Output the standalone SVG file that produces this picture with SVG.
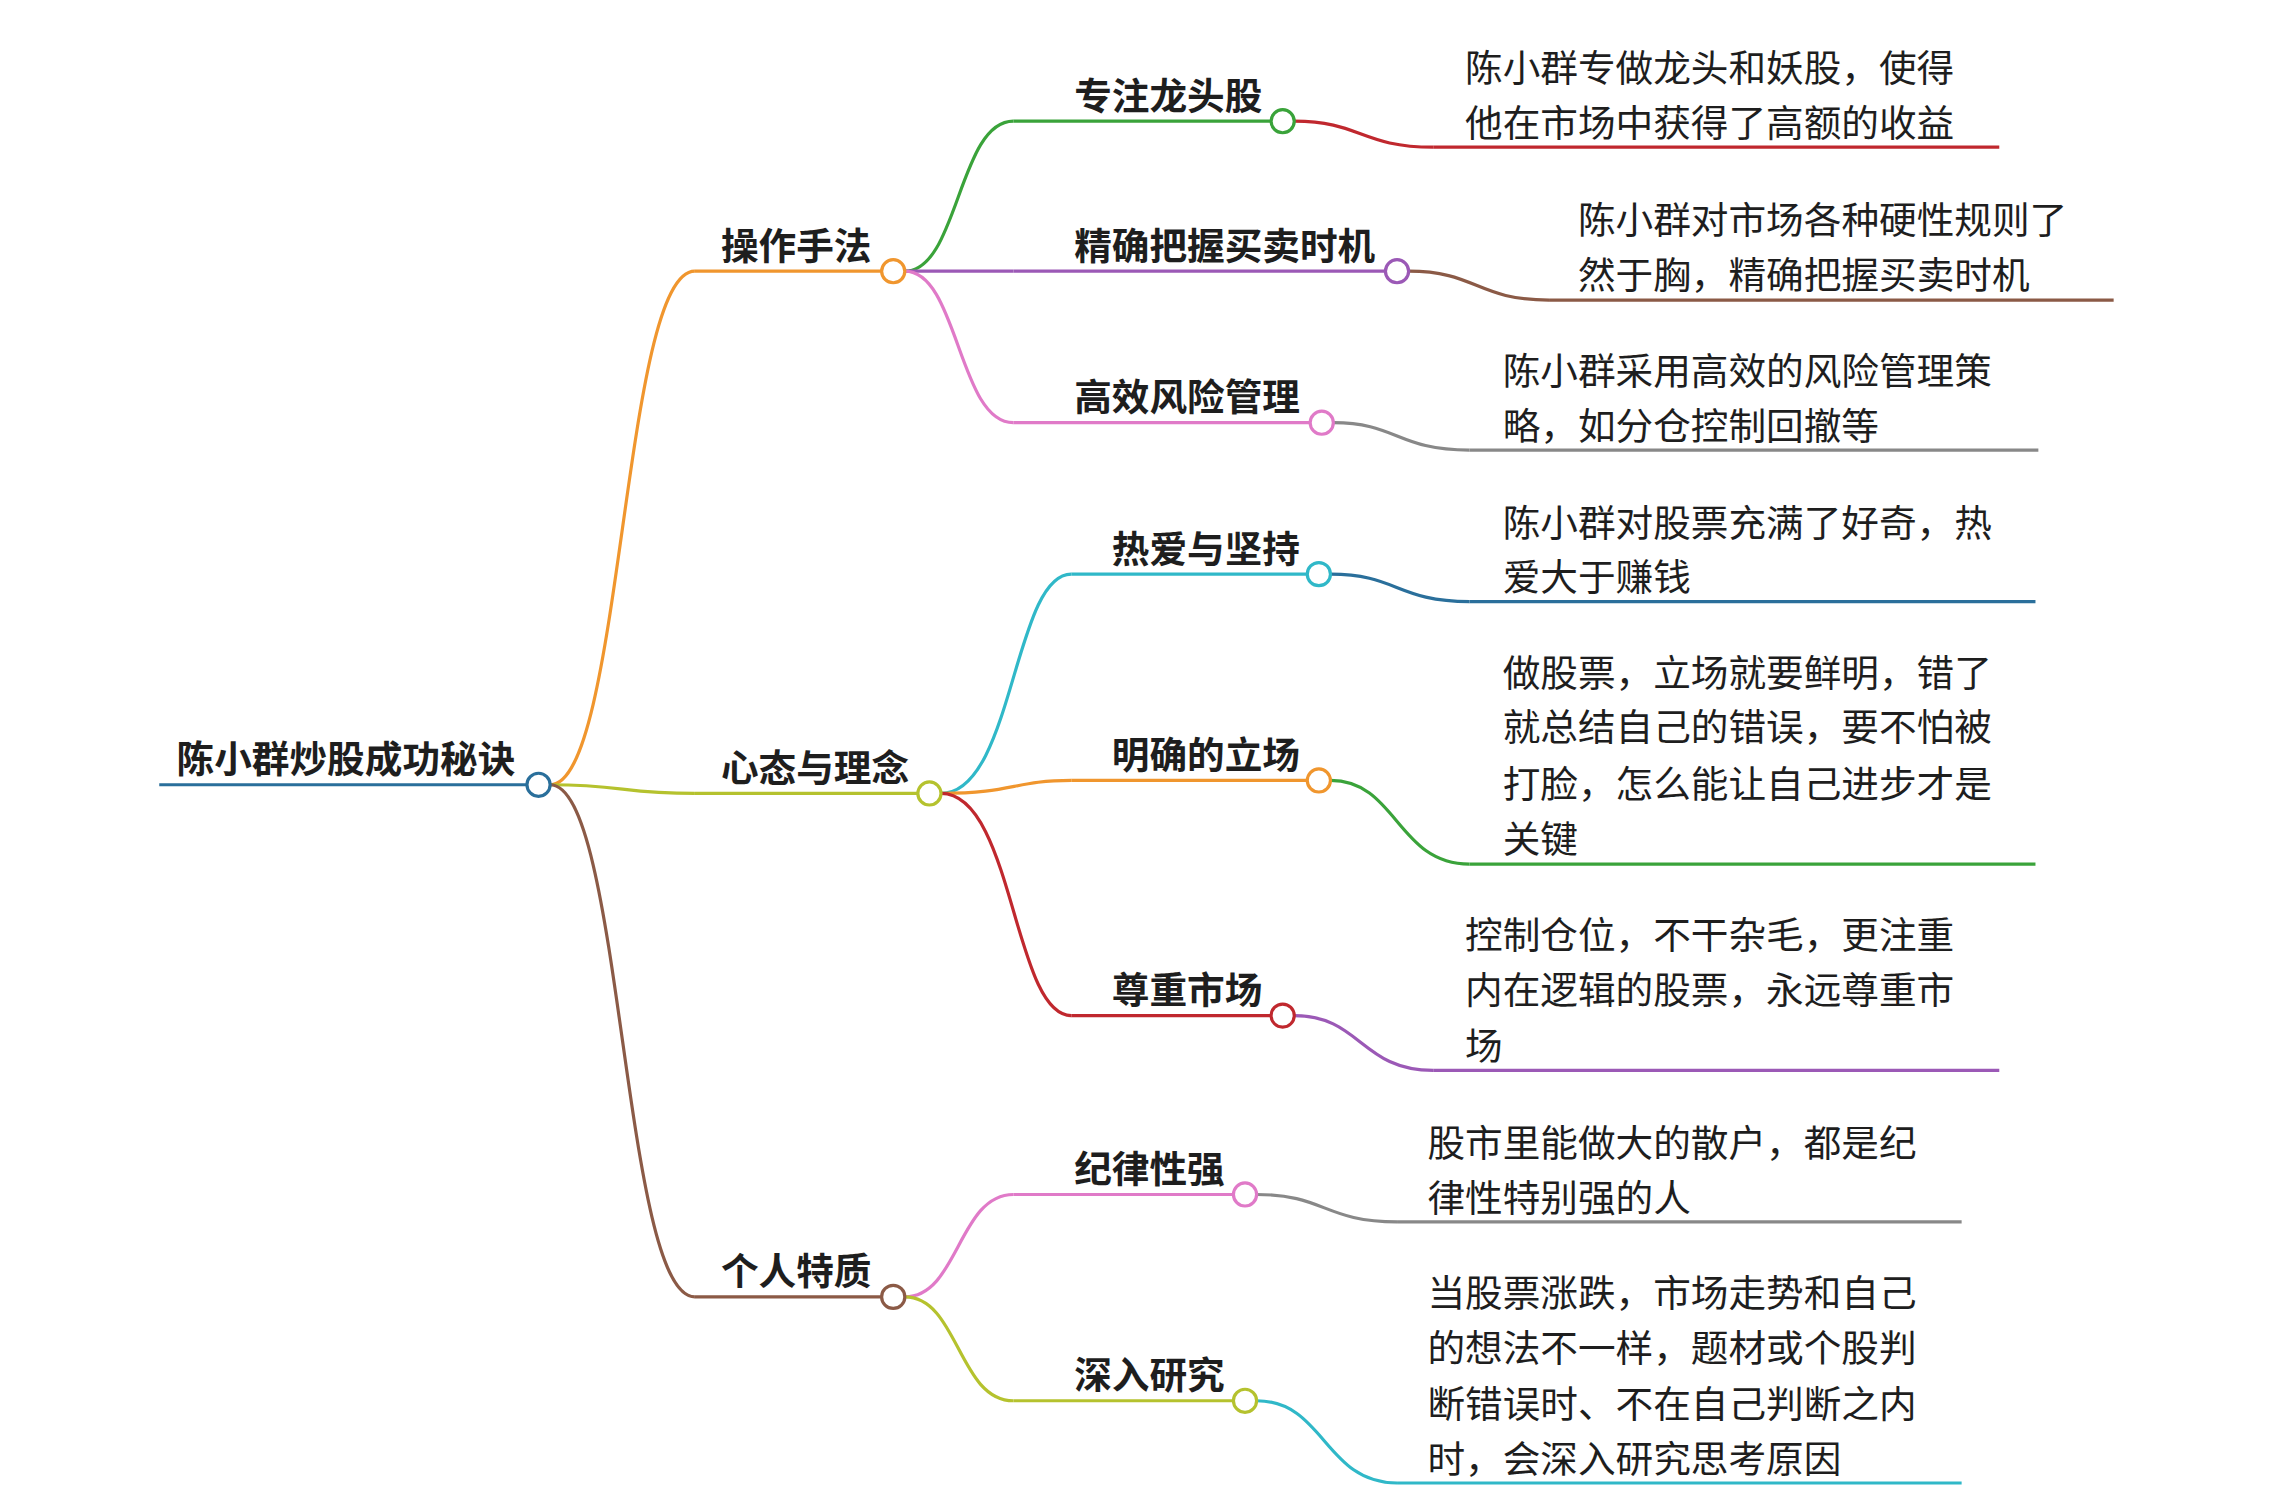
<svg xmlns="http://www.w3.org/2000/svg" width="2270" height="1509" viewBox="0 0 2270 1509">
<style>
text{font-family:"Noto Sans CJK SC","Noto Sans",sans-serif;fill:#1e1e1e;font-size:26px}
.b{font-weight:bold}
path,line{fill:none;stroke-width:2.2}
circle{fill:#fff;stroke-width:2.2}
</style>
<rect width="2270" height="1509" fill="#fff"/>
<g transform="scale(1.4477,1.4426)">
<g id="connectors">
<path d="M380 544 C430 544,430 188,480 188" stroke="#f0962e"/>
<path d="M380 544 C430 544,430 550,480 550" stroke="#b5c22e"/>
<path d="M380 544 C430 544,430 899,480 899" stroke="#8b5a46"/>
<path d="M625 188 C662 188,662 84,700 84" stroke="#3aa33a"/>
<path d="M625 188 C662 188,662 188,700 188" stroke="#9b59b6"/>
<path d="M625 188 C662 188,662 293,700 293" stroke="#e07ac8"/>
<path d="M650 550 C700 550,700 398,740 398" stroke="#30b8c8"/>
<path d="M650 550 C700 550,700 541,740 541" stroke="#f0962e"/>
<path d="M650 550 C700 550,700 704,740 704" stroke="#c0282e"/>
<path d="M625 899 C662 899,662 828,700 828" stroke="#e07ac8"/>
<path d="M625 899 C662 899,662 971,700 971" stroke="#b5c22e"/>
<path d="M894 84 C940 84,940 102,990 102" stroke="#c0282e"/>
<path d="M973 188 C1020 188,1020 208,1070 208" stroke="#8b5a46"/>
<path d="M921 293 C965 293,965 312,1015 312" stroke="#888"/>
<path d="M919 398 C965 398,965 417,1015 417" stroke="#2a6f9b"/>
<path d="M919 541 C965 541,965 599,1015 599" stroke="#3aa33a"/>
<path d="M894 704 C940 704,940 742,990 742" stroke="#9b59b6"/>
<path d="M868 828 C915 828,915 847,965 847" stroke="#888"/>
<path d="M868 971 C915 971,915 1028,965 1028" stroke="#30b8c8"/>
<line x1="990" y1="102" x2="1381" y2="102" stroke="#c0282e"/>
<line x1="1070" y1="208" x2="1460" y2="208" stroke="#8b5a46"/>
<line x1="1015" y1="312" x2="1408" y2="312" stroke="#888"/>
<line x1="1015" y1="417" x2="1406" y2="417" stroke="#2a6f9b"/>
<line x1="1015" y1="599" x2="1406" y2="599" stroke="#3aa33a"/>
<line x1="990" y1="742" x2="1381" y2="742" stroke="#9b59b6"/>
<line x1="965" y1="847" x2="1355" y2="847" stroke="#888"/>
<line x1="965" y1="1028" x2="1355" y2="1028" stroke="#30b8c8"/>
</g>
<g id="root"><line x1="110" y1="544" x2="364" y2="544" stroke="#2a6f9b"/><circle cx="372" cy="544" r="8" stroke="#2a6f9b"/><text class="b" x="122" y="536">陈小群炒股成功秘诀</text></g>
<g id="n1"><line x1="480" y1="188" x2="609" y2="188" stroke="#f0962e"/><circle cx="617" cy="188" r="8" stroke="#f0962e"/><text class="b" x="498" y="180">操作手法</text></g>
<g id="n2"><line x1="480" y1="550" x2="634" y2="550" stroke="#b5c22e"/><circle cx="642" cy="550" r="8" stroke="#b5c22e"/><text class="b" x="498" y="542">心态与理念</text></g>
<g id="n3"><line x1="480" y1="899" x2="609" y2="899" stroke="#8b5a46"/><circle cx="617" cy="899" r="8" stroke="#8b5a46"/><text class="b" x="498" y="891">个人特质</text></g>
<g id="n11"><line x1="700" y1="84" x2="878" y2="84" stroke="#3aa33a"/><circle cx="886" cy="84" r="8" stroke="#3aa33a"/><text class="b" x="742" y="76">专注龙头股</text></g>
<g id="n12"><line x1="700" y1="188" x2="957" y2="188" stroke="#9b59b6"/><circle cx="965" cy="188" r="8" stroke="#9b59b6"/><text class="b" x="742" y="180">精确把握买卖时机</text></g>
<g id="n13"><line x1="700" y1="293" x2="905" y2="293" stroke="#e07ac8"/><circle cx="913" cy="293" r="8" stroke="#e07ac8"/><text class="b" x="742" y="285">高效风险管理</text></g>
<g id="n21"><line x1="740" y1="398" x2="903" y2="398" stroke="#30b8c8"/><circle cx="911" cy="398" r="8" stroke="#30b8c8"/><text class="b" x="768" y="390">热爱与坚持</text></g>
<g id="n22"><line x1="740" y1="541" x2="903" y2="541" stroke="#f0962e"/><circle cx="911" cy="541" r="8" stroke="#f0962e"/><text class="b" x="768" y="533">明确的立场</text></g>
<g id="n23"><line x1="740" y1="704" x2="878" y2="704" stroke="#c0282e"/><circle cx="886" cy="704" r="8" stroke="#c0282e"/><text class="b" x="768" y="696">尊重市场</text></g>
<g id="n31"><line x1="700" y1="828" x2="852" y2="828" stroke="#e07ac8"/><circle cx="860" cy="828" r="8" stroke="#e07ac8"/><text class="b" x="742" y="820">纪律性强</text></g>
<g id="n32"><line x1="700" y1="971" x2="852" y2="971" stroke="#b5c22e"/><circle cx="860" cy="971" r="8" stroke="#b5c22e"/><text class="b" x="742" y="963">深入研究</text></g>
<g id="l11"><text x="1012" y="57">陈小群专做龙头和妖股，使得</text><text x="1012" y="95">他在市场中获得了高额的收益</text></g>
<g id="l12"><text x="1090" y="162">陈小群对市场各种硬性规则了</text><text x="1090" y="200">然于胸，精确把握买卖时机</text></g>
<g id="l13"><text x="1038" y="267">陈小群采用高效的风险管理策</text><text x="1038" y="305">略，如分仓控制回撤等</text></g>
<g id="l21"><text x="1038" y="372">陈小群对股票充满了好奇，热</text><text x="1038" y="410">爱大于赚钱</text></g>
<g id="l22"><text x="1038" y="476">做股票，立场就要鲜明，错了</text><text x="1038" y="514">就总结自己的错误，要不怕被</text><text x="1038" y="553">打脸，怎么能让自己进步才是</text><text x="1038" y="591">关键</text></g>
<g id="l23"><text x="1012" y="658">控制仓位，不干杂毛，更注重</text><text x="1012" y="696">内在逻辑的股票，永远尊重市</text><text x="1012" y="735">场</text></g>
<g id="l31"><text x="986" y="802">股市里能做大的散户，都是纪</text><text x="986" y="840">律性特别强的人</text></g>
<g id="l32"><text x="986" y="906">当股票涨跌，市场走势和自己</text><text x="986" y="944">的想法不一样，题材或个股判</text><text x="986" y="983">断错误时、不在自己判断之内</text><text x="986" y="1021">时，会深入研究思考原因</text></g>
</g>
</svg>
